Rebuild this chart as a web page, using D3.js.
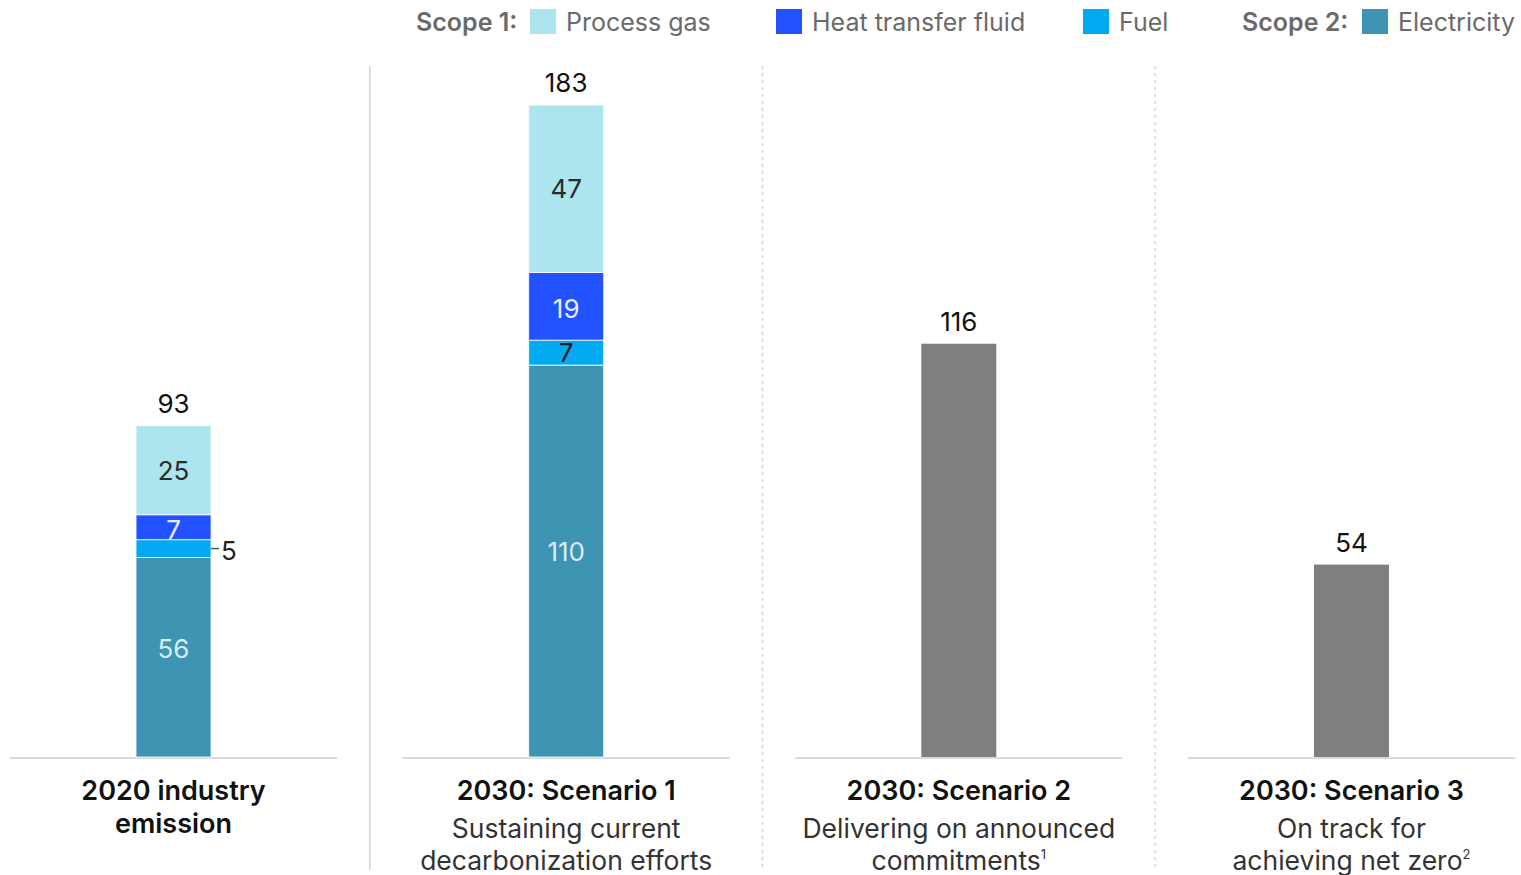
<!DOCTYPE html>
<html>
<head>
<meta charset="utf-8">
<script src="https://cdn.jsdelivr.net/npm/d3@7"></script>
<style>
  html, body { margin: 0; padding: 0; background: #fff; }
  svg { display: block; font-family: Inter, Roboto, "Liberation Sans", sans-serif; }
</style>
</head>
<body>
<svg id="chart" width="1521" height="875"></svg>
<script>
// Emissions by source, MtCO2e
const categories = ["2020 industry emission", "2030: Scenario 1", "2030: Scenario 2", "2030: Scenario 3"];
const titleLines = [["2020 industry", "emission"], ["2030: Scenario 1"], ["2030: Scenario 2"], ["2030: Scenario 3"]];
const subtitleLines = [[], ["Sustaining current", "decarbonization efforts"], ["Delivering on announced", "commitments|1"], ["On track for", "achieving net zero|2"]];
const electricity = [56, 110, null, null];
const fuel = [5, 7, null, null];
const heatFluid = [7, 19, null, null];
const processGas = [25, 47, null, null];
const totals = [93, 183, 116, 54];

const seriesKeys = ["electricity", "fuel", "heatFluid", "processGas"];
const seriesValues = { electricity, fuel, heatFluid, processGas };
const colors = {
  electricity: "#3d94b3",
  fuel: "#03a9f1",
  heatFluid: "#2251ff",
  processGas: "#ade5ef",
  total: "#7f7f7f"
};
const labelColors = {
  electricity: "#d6edf3",
  fuel: "#1a1a1a",
  heatFluid: "#e8eeff",
  processGas: "#2a2a2a"
};
// vertical nudge of in-bar labels
const labelShift = { electricity: -9, fuel: 0, heatFluid: 2, processGas: 0 };

const svg = d3.select("#chart");
const baseline = 757;

const x = d3.scaleBand().domain(categories).range([10, 1515]).paddingInner(0.167).paddingOuter(0);
const y = d3.scaleLinear().domain([0, 183]).range([baseline, 105]);
const barW = 75;
const cx = c => x(c) + x.bandwidth() / 2;
const numSize = 26;

// Panel separators
categories.slice(1).forEach((c, i) => {
  const sx = (x(categories[i]) + x.bandwidth() + x(c)) / 2;
  svg.append("line")
    .attr("x1", sx).attr("x2", sx).attr("y1", 66).attr("y2", 870)
    .attr("stroke", i === 0 ? "#dcdcdc" : "#d4d4d4")
    .attr("stroke-width", i === 0 ? 2 : 1.5)
    .attr("stroke-dasharray", i === 0 ? null : "3,4");
});

// Baselines
svg.selectAll("line.base").data(categories).join("line")
  .attr("class", "base")
  .attr("x1", d => x(d)).attr("x2", d => x(d) + x.bandwidth())
  .attr("y1", baseline + 1).attr("y2", baseline + 1)
  .attr("stroke", "#d9d9d9").attr("stroke-width", 2);

// Stacked data
const rows = categories.map((c, i) => {
  const r = { category: c };
  seriesKeys.forEach(k => r[k] = seriesValues[k][i] || 0);
  return r;
});
const stacked = d3.stack().keys(seriesKeys)(rows);

stacked.forEach(layer => {
  const key = layer.key;
  const g = svg.append("g");
  layer.forEach((seg, i) => {
    const v = seriesValues[key][i];
    if (v == null) return;
    const c = categories[i];
    g.append("rect")
      .attr("x", cx(c) - barW / 2)
      .attr("width", barW)
      .attr("y", y(seg[1]))
      .attr("height", y(seg[0]) - y(seg[1]))
      .attr("fill", colors[key])
      .attr("stroke", "#ffffff")
      .attr("stroke-opacity", 0.8)
      .attr("stroke-width", 1);
    const mid = (y(seg[0]) + y(seg[1])) / 2;
    const h = y(seg[0]) - y(seg[1]);
    if (h < 22) {
      // small segment: value beside the bar with a leader line
      g.append("line")
        .attr("x1", cx(c) + barW / 2).attr("x2", cx(c) + barW / 2 + 8)
        .attr("y1", mid).attr("y2", mid)
        .attr("stroke", "#555").attr("stroke-width", 1.5);
      g.append("text")
        .attr("x", cx(c) + barW / 2 + 10).attr("y", mid + 2)
        .attr("dy", "0.36em")
        .attr("font-size", numSize).attr("fill", "#222")
        .text(v);
    } else {
      g.append("text")
        .attr("x", cx(c)).attr("y", mid + labelShift[key])
        .attr("dy", "0.36em")
        .attr("text-anchor", "middle")
        .attr("font-size", numSize)
        .attr("fill", labelColors[key])
        .text(v);
    }
  });
});

// Total-only bars
categories.forEach((c, i) => {
  if (electricity[i] != null) return;
  svg.append("rect")
    .attr("x", cx(c) - barW / 2).attr("width", barW)
    .attr("y", y(totals[i])).attr("height", baseline - y(totals[i]))
    .attr("fill", colors.total);
});

// Totals above bars
svg.selectAll("text.total").data(categories).join("text")
  .attr("class", "total")
  .attr("x", d => cx(d))
  .attr("y", (d, i) => y(totals[i]) - 13)
  .attr("text-anchor", "middle")
  .attr("font-size", numSize)
  .attr("fill", "#111")
  .text((d, i) => totals[i]);

// Category titles and subtitles
categories.forEach((c, i) => {
  let ly = 800;
  titleLines[i].forEach(line => {
    svg.append("text")
      .attr("x", cx(c)).attr("y", ly)
      .attr("text-anchor", "middle")
      .attr("font-size", 27).attr("font-weight", 600)
      .attr("fill", "#111")
      .text(line);
    ly += 33;
  });
  ly = 838;
  subtitleLines[i].forEach(line => {
    const [main, sup] = line.split("|");
    const t = svg.append("text")
      .attr("x", cx(c)).attr("y", ly)
      .attr("text-anchor", "middle")
      .attr("font-size", 26.5)
      .attr("fill", "#333");
    t.append("tspan").text(main);
    if (sup) {
      t.append("tspan").attr("font-size", 13).attr("dy", -11).text(sup);
    }
    ly += 32;
  });
});

// Legend
const legendItems = [
  { lead: "Scope 1:", leadX: 416, swatchX: 530, key: "processGas", label: "Process gas" },
  { swatchX: 776, key: "heatFluid", label: "Heat transfer fluid" },
  { swatchX: 1083, key: "fuel", label: "Fuel" },
  { lead: "Scope 2:", leadX: 1242, swatchX: 1362, key: "electricity", label: "Electricity" }
];
const legendY = 31;
legendItems.forEach(it => {
  if (it.lead) {
    svg.append("text")
      .attr("x", it.leadX).attr("y", legendY)
      .attr("font-size", 25).attr("font-weight", 600)
      .attr("fill", "#6a6a6a")
      .text(it.lead);
  }
  svg.append("rect")
    .attr("x", it.swatchX).attr("y", 9)
    .attr("width", 26).attr("height", 25)
    .attr("fill", colors[it.key]);
  svg.append("text")
    .attr("x", it.swatchX + 36).attr("y", legendY)
    .attr("font-size", 25)
    .attr("fill", "#6a6a6a")
    .text(it.label);
});
</script>
</body>
</html>
